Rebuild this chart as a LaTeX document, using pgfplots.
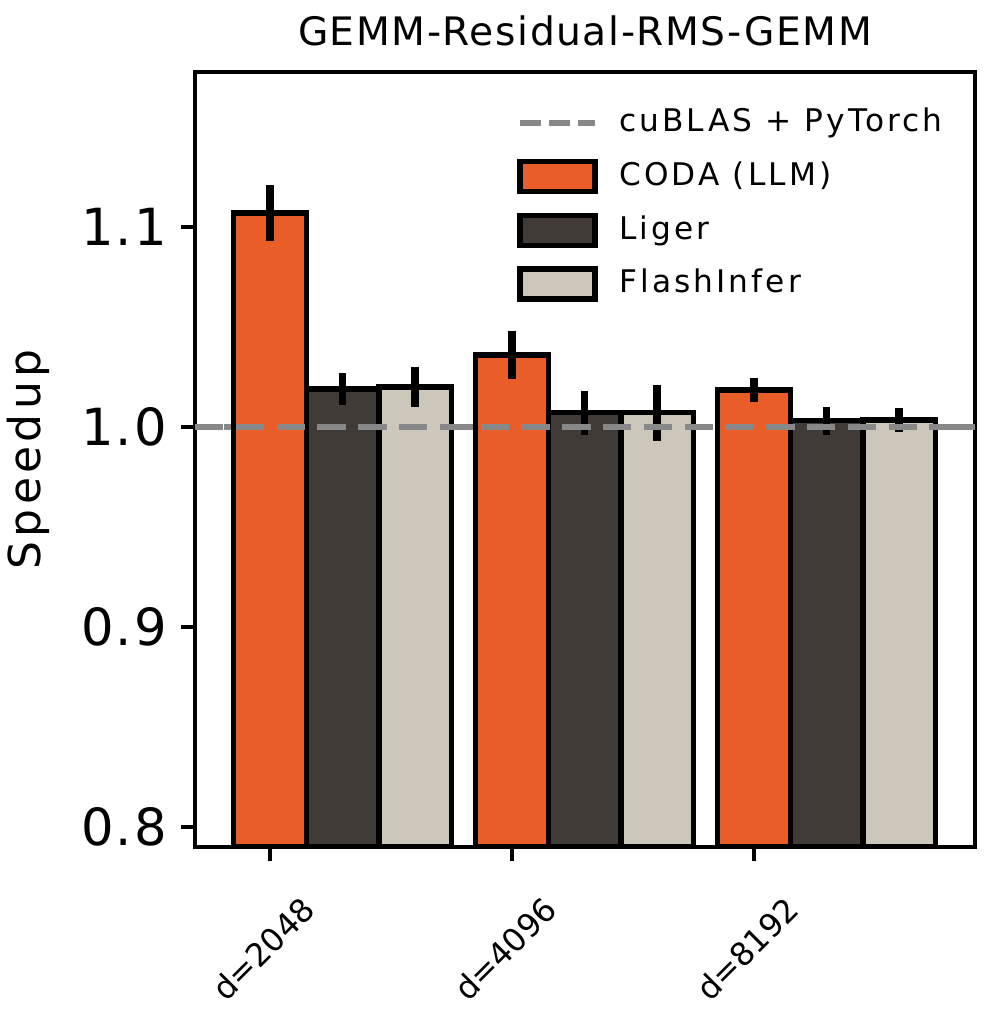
\documentclass[border=0pt]{standalone}
\usepackage{pgfplots}
\usepackage{pgfplotstable}
\pgfplotsset{compat=1.18}
\usepackage{fontspec}
\setmainfont{DejaVu Sans}
\definecolor{coda}{HTML}{E95E28}
\definecolor{liger}{HTML}{403B36}
\definecolor{flash}{HTML}{CDC6BB}
\definecolor{baseg}{HTML}{888888}

\pgfplotsset{
  barleg/.style={legend image code/.code={\draw[##1] (0pt,-3.75pt) rectangle (18.75pt,3.75pt);}},
  lineleg/.style={legend image code/.code={\draw[##1] (0pt,0pt) -- (18.75pt,0pt);}},
  mybar/.style={ybar, bar width=0.3, bar shift=0pt, fill=#1, draw=black, line width=1.3pt, barleg,
    error bars/.cd, y dir=both, y explicit, error mark=none,
    error bar style={line width=1.9pt, black}},
}

\pgfplotstableread{
x y e
0 1.107 0.014
1 1.036 0.012
2 1.0185 0.006
}\codatab
\pgfplotstableread{
x y e
0.3 1.019 0.008
1.3 1.0072 0.011
2.3 1.0032 0.007
}\ligertab
\pgfplotstableread{
x y e
0.6 1.020 0.010
1.6 1.0072 0.014
2.6 1.0035 0.006
}\flashtab

\begin{document}
\begin{tikzpicture}
\begin{axis}[
  scale only axis,
  width=195pt, height=193.75pt,
  xmin=-0.31, xmax=2.913,
  ymin=0.79, ymax=1.1775,
  xtick={0,1,2},
  xticklabels={d=2048,d=4096,d=8192},
  ytick={0.8,0.9,1.0,1.1},
  tick align=outside,
  xtick pos=bottom, ytick pos=left,
  major tick length=3.5pt,
  every tick/.style={black, line width=0.85pt},
  axis line style={line width=0.85pt},
  /pgf/number format/assume math mode=true,
  yticklabel style={font=\fontsize{12.8}{14}\selectfont\addfontfeature{LetterSpace=4}, /pgf/number format/.cd, fixed, fixed zerofill, precision=1},
  xticklabel style={font=\fontsize{8}{9}\selectfont, xshift=-1.75pt, yshift=-22pt, rotate=45, anchor=center},
  ylabel={\addfontfeature{LetterSpace=10}Speedup},
  ylabel style={font=\fontsize{11}{12}\selectfont, at={(axis description cs:-0.213,0.5)}, anchor=center},
  title={\addfontfeature{LetterSpace=4}GEMM-Residual-RMS-GEMM},
  title style={font=\fontsize{9.8}{11}\selectfont, at={(rel axis cs:0.5,1)}, anchor=base, yshift=0.5pt},
  legend style={draw=none, fill=none, at={(rel axis cs:0.985,0.975)}, anchor=north east,
    font=\fontsize{7.8}{8.5}\selectfont\addfontfeature{LetterSpace=10},
    row sep=2pt, /tikz/every odd column/.append style={column sep=3.2pt}},
  legend cell align=left,
  clip=true,
]
\addplot[baseg, line width=1.7pt, dash pattern=on 5.2pt off 2.1pt, lineleg]
  coordinates {(-0.31,1.0) (2.913,1.0)};
\addlegendentry{cuBLAS + PyTorch}
\addplot[mybar=coda] table[x=x, y=y, y error=e] \codatab;
\addlegendentry{CODA (LLM)}
\addplot[mybar=liger] table[x=x, y=y, y error=e] \ligertab;
\addlegendentry{Liger}
\addplot[mybar=flash] table[x=x, y=y, y error=e] \flashtab;
\addlegendentry{FlashInfer}
\addplot[forget plot, baseg, line width=1.7pt, dash pattern=on 7.1pt off 3.1pt]
  coordinates {(-0.31,1.0) (2.913,1.0)};
\end{axis}
\pgfresetboundingbox
\path (current axis.south west) ++(-48.75pt,-41.75pt) (current axis.north east) ++(2.25pt,18pt);
\end{tikzpicture}
\end{document}
